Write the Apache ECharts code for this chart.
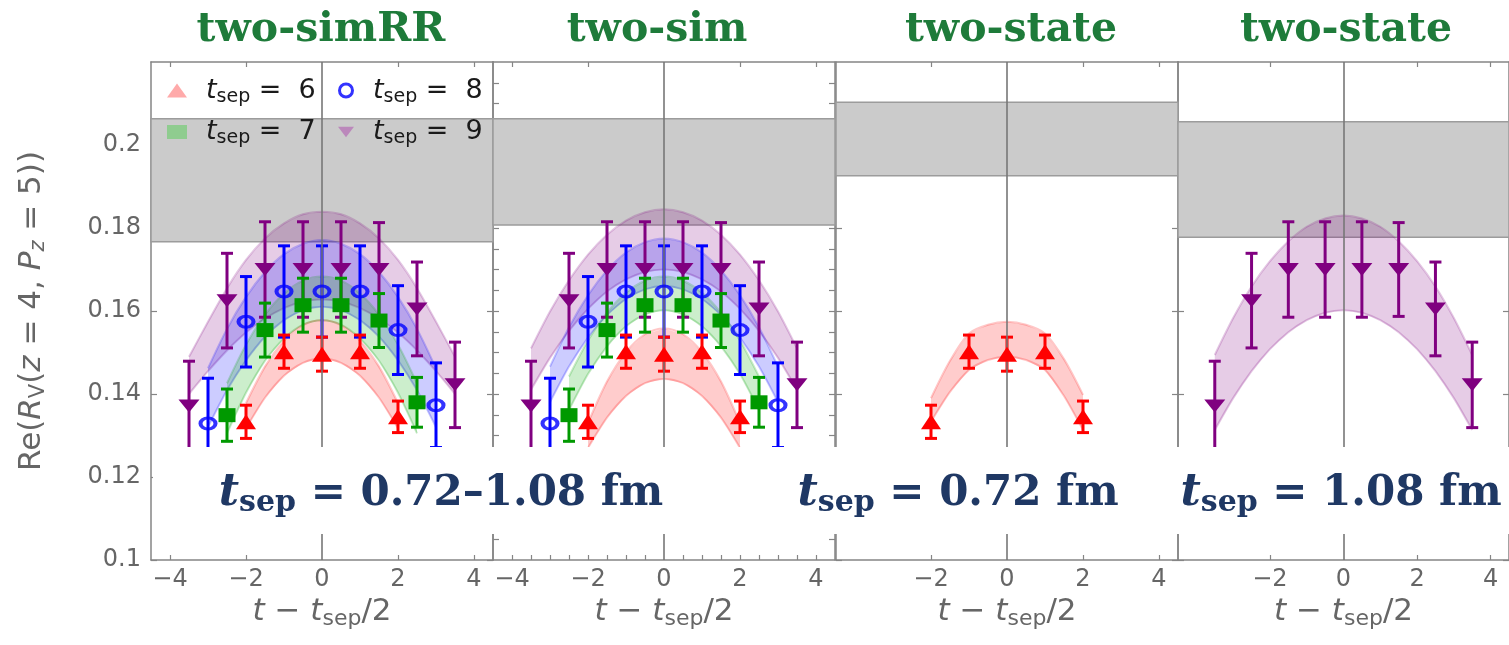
<!DOCTYPE html>
<html>
<head>
<meta charset="utf-8">
<title>Re(R_V) two-state fits</title>
<script src="https://cdn.jsdelivr.net/npm/echarts@6/dist/echarts.min.js"></script>
<style>
  html, body { margin: 0; padding: 0; background: #fff; }
  #chart { width: 1509px; height: 645px; }
</style>
</head>
<body>
<div id="chart"></div>
<script>
// ---- data ----
var panelTitles = ['two-simRR', 'two-sim', 'two-state', 'two-state'];
var tsepLabels = ['0.72–1.08', '0.72', '1.08'];
var yTicks = [0.1, 0.12, 0.14, 0.16, 0.18, 0.2];
var yTicksFine = [0.105, 0.11, 0.115, 0.12, 0.125, 0.13, 0.135, 0.14, 0.145, 0.15, 0.155, 0.16,
                  0.165, 0.17, 0.175, 0.18, 0.185, 0.19, 0.195, 0.2, 0.205, 0.21, 0.215];
var xTicksFull = [-4, -2, 0, 2, 4];
var xTicksShort = [-2, 0, 2, 4];
var xTicksFine = [-4, -3.5, -3, -2.5, -2, -1.5, -1, -0.5, 0.5, 1, 1.5, 2, 2.5, 3, 3.5, 4];

// lattice points (same in every panel)
var t6 = [-2, -1, 0, 1, 2];
var r6 = [0.1333, 0.1502, 0.1496, 0.1502, 0.1345];
var e6 = [0.0040, 0.0040, 0.0041, 0.0040, 0.0038];
var t7 = [-2.5, -1.5, -0.5, 0.5, 1.5, 2.5];
var r7 = [0.1349, 0.1554, 0.1614, 0.1614, 0.1577, 0.1380];
var e7 = [0.0063, 0.0065, 0.0065, 0.0065, 0.0065, 0.0060];
var t8 = [-3, -2, -1, 0, 1, 2, 3];
var r8 = [0.1329, 0.1574, 0.1647, 0.1647, 0.1647, 0.1554, 0.1373];
var e8 = [0.0109, 0.0109, 0.0110, 0.0110, 0.0110, 0.0107, 0.0102];
var t9 = [-3.5, -2.5, -1.5, -0.5, 0.5, 1.5, 2.5, 3.5];
var r9 = [0.1371, 0.1625, 0.1700, 0.1700, 0.1700, 0.1700, 0.1605, 0.1422];
var e9 = [0.0108, 0.0114, 0.0115, 0.0115, 0.0115, 0.0113, 0.0113, 0.0103];

// grey bands (ground-state result) per panel: [low, high]
var grayLo = [0.1767, 0.1807, 0.1926, 0.1778];
var grayHi = [0.2063, 0.2063, 0.2103, 0.2056];

// fit bands, sampled every 0.5
var bandT6 = [-2, -1.5, -1, -0.5, 0, 0.5, 1, 1.5, 2];
var bandT7 = [-2.5, -2, -1.5, -1, -0.5, 0, 0.5, 1, 1.5, 2, 2.5];
var bandT8 = [-3, -2.5, -2, -1.5, -1, -0.5, 0, 0.5, 1, 1.5, 2, 2.5, 3];
var bandT9 = [-3.5, -3, -2.5, -2, -1.5, -1, -0.5, 0, 0.5, 1, 1.5, 2, 2.5, 3, 3.5];

var p1Hi9 = [0.1490, 0.1574, 0.1655, 0.1723, 0.1775, 0.1811, 0.1833, 0.1839, 0.1833, 0.1811, 0.1775, 0.1723, 0.1655, 0.1574, 0.1490];
var p1Lo9 = [0.1400, 0.1455, 0.1505, 0.1548, 0.1582, 0.1607, 0.1623, 0.1628, 0.1623, 0.1607, 0.1582, 0.1548, 0.1505, 0.1455, 0.1400];
var p1Hi8 = [0.1462, 0.1557, 0.1634, 0.1694, 0.1737, 0.1762, 0.1771, 0.1762, 0.1737, 0.1694, 0.1634, 0.1557, 0.1462];
var p1Lo8 = [0.1320, 0.1409, 0.1481, 0.1538, 0.1578, 0.1602, 0.1610, 0.1602, 0.1578, 0.1538, 0.1481, 0.1409, 0.1320];
var p1Hi7 = [0.1426, 0.1519, 0.1591, 0.1642, 0.1673, 0.1683, 0.1673, 0.1642, 0.1591, 0.1519, 0.1426];
var p1Lo7 = [0.1305, 0.1403, 0.1480, 0.1534, 0.1567, 0.1578, 0.1567, 0.1534, 0.1480, 0.1403, 0.1305];
var p1Hi6 = [0.1378, 0.1466, 0.1528, 0.1566, 0.1578, 0.1566, 0.1528, 0.1466, 0.1378];
var p1Lo6 = [0.1317, 0.1391, 0.1444, 0.1475, 0.1486, 0.1475, 0.1444, 0.1391, 0.1317];

var p2Hi9 = [0.1510, 0.1599, 0.1674, 0.1736, 0.1784, 0.1818, 0.1838, 0.1845, 0.1838, 0.1818, 0.1784, 0.1736, 0.1674, 0.1599, 0.1510];
var p2Lo9 = [0.1410, 0.1487, 0.1552, 0.1605, 0.1647, 0.1676, 0.1694, 0.1700, 0.1694, 0.1676, 0.1647, 0.1605, 0.1552, 0.1487, 0.1410];
var p2Hi8 = [0.1466, 0.1561, 0.1638, 0.1698, 0.1741, 0.1766, 0.1775, 0.1766, 0.1741, 0.1698, 0.1638, 0.1561, 0.1466];
var p2Lo8 = [0.1380, 0.1466, 0.1536, 0.1590, 0.1629, 0.1652, 0.1660, 0.1652, 0.1629, 0.1590, 0.1536, 0.1466, 0.1380];
var p2Hi7 = [0.1442, 0.1529, 0.1596, 0.1644, 0.1673, 0.1683, 0.1673, 0.1644, 0.1596, 0.1529, 0.1442];
var p2Lo7 = [0.1361, 0.1448, 0.1515, 0.1563, 0.1592, 0.1602, 0.1592, 0.1563, 0.1515, 0.1448, 0.1361];
var p2Hi6 = [0.1330, 0.1430, 0.1501, 0.1544, 0.1558, 0.1544, 0.1501, 0.1430, 0.1330];
var p2Lo6 = [0.1270, 0.1343, 0.1395, 0.1426, 0.1436, 0.1426, 0.1395, 0.1343, 0.1270];

var p3Hi6 = [0.1390, 0.1480, 0.1546, 0.1567, 0.1574, 0.1567, 0.1546, 0.1484, 0.1398];
var p3Lo6 = [0.1333, 0.1405, 0.1458, 0.1482, 0.1490, 0.1482, 0.1458, 0.1395, 0.1313];

var p4Hi9 = [0.1494, 0.1583, 0.1659, 0.1720, 0.1768, 0.1803, 0.1823, 0.1830, 0.1823, 0.1803, 0.1768, 0.1720, 0.1659, 0.1583, 0.1494];
var p4Lo9 = [0.1313, 0.1390, 0.1455, 0.1508, 0.1549, 0.1578, 0.1596, 0.1602, 0.1596, 0.1578, 0.1549, 0.1508, 0.1455, 0.1390, 0.1313];

// ---- styling ----
var sets = {
  9: { t: t9, r: r9, e: e9, bt: bandT9, color: '#800080', fill: 'rgba(128,0,128,0.2)', edge: 'rgba(128,0,128,0.22)',
       symbol: 'triangle', rotate: 180, size: [21, 13] },
  8: { t: t8, r: r8, e: e8, bt: bandT8, color: '#0000ff', fill: 'rgba(0,0,255,0.2)', edge: 'rgba(0,0,255,0.22)',
       symbol: 'circle', rotate: 0, size: [15, 11] },
  7: { t: t7, r: r7, e: e7, bt: bandT7, color: '#009900', fill: 'rgba(0,170,0,0.2)', edge: 'rgba(0,160,0,0.22)',
       symbol: 'rect', rotate: 0, size: [17, 14] },
  6: { t: t6, r: r6, e: e6, bt: bandT6, color: '#ff0000', fill: 'rgba(255,0,0,0.2)', edge: 'rgba(255,0,0,0.22)',
       symbol: 'triangle', rotate: 0, size: [20, 15] }
};
var panels = [
  { keys: [9, 8, 7, 6], bands: { 9: [p1Lo9, p1Hi9], 8: [p1Lo8, p1Hi8], 7: [p1Lo7, p1Hi7], 6: [p1Lo6, p1Hi6] } },
  { keys: [9, 8, 7, 6], bands: { 9: [p2Lo9, p2Hi9], 8: [p2Lo8, p2Hi8], 7: [p2Lo7, p2Hi7], 6: [p2Lo6, p2Hi6] } },
  { keys: [6], bands: { 6: [p3Lo6, p3Hi6] } },
  { keys: [9], bands: { 9: [p4Lo9, p4Hi9] } }
];

var gridLeft = [151, 493, 836, 1178];
var gridW = 342, gridTop = 62, gridH = 498;
var axisColor = '#858585';
var labelColor = '#666';
var sans = 'DejaVu Sans';

function minus(v) { return v < 0 ? '\u2212' + Math.abs(v) : String(v); }

function bandSeries(xi, yi, ts, lo, hi, fill, edge) {
  return {
    type: 'custom', xAxisIndex: xi, yAxisIndex: yi, z: 2, silent: true,
    data: ts.map(function (t, i) { return [t, lo[i], hi[i]]; }),
    encode: { x: 0, y: [1, 2] },
    renderItem: function (params, api) {
      if (params.dataIndex !== 0) return null;
      var top = ts.map(function (t, i) { return api.coord([t, hi[i]]); });
      var bot = ts.map(function (t, i) { return api.coord([t, lo[i]]); });
      return { type: 'group', children: [
        { type: 'polygon', shape: { points: top.concat(bot.slice().reverse()) }, style: { fill: fill } },
        { type: 'polyline', shape: { points: top, smooth: 0.3 }, style: { stroke: edge, lineWidth: 2, fill: null } },
        { type: 'polyline', shape: { points: bot, smooth: 0.3 }, style: { stroke: edge, lineWidth: 2, fill: null } }
      ] };
    }
  };
}

function errorSeries(xi, yi, s) {
  return {
    type: 'custom', xAxisIndex: xi, yAxisIndex: yi, z: 4, silent: true,
    data: s.t.map(function (t, i) { return [t, s.r[i] - s.e[i], s.r[i] + s.e[i]]; }),
    encode: { x: 0, y: [1, 2] },
    renderItem: function (params, api) {
      var a = api.coord([api.value(0), api.value(1)]);
      var b = api.coord([api.value(0), api.value(2)]);
      var w = 6;
      var st = { stroke: s.color, lineWidth: 3 };
      return { type: 'group', children: [
        { type: 'line', shape: { x1: a[0], y1: a[1], x2: b[0], y2: b[1] }, style: st },
        { type: 'line', shape: { x1: a[0] - w, y1: a[1], x2: a[0] + w, y2: a[1] }, style: st },
        { type: 'line', shape: { x1: b[0] - w, y1: b[1], x2: b[0] + w, y2: b[1] }, style: st }
      ] };
    }
  };
}

var grids = [], xAxes = [], yAxes = [], series = [];

gridLeft.forEach(function (left, gi) {
  grids.push({ left: left, top: gridTop, width: gridW, height: gridH });
  var xt = gi < 2 ? xTicksFull : xTicksShort;
  var tickVals = gi === 1 ? xTicksFine : xt.filter(function (v) { return v !== 0; });
  var yTickVals = gi === 1 ? yTicksFine : yTicks;
  // bottom x axis
  xAxes.push({
    gridIndex: gi, type: 'value', min: -4.5, max: 4.5, position: 'bottom',
    axisLine: { onZero: false, lineStyle: { color: axisColor, width: 1.5 } },
    axisTick: { inside: true, length: 5, customValues: tickVals, lineStyle: { color: axisColor, width: 1.2 } },
    axisLabel: { customValues: xt, formatter: minus, color: labelColor, fontSize: 24,
                 fontFamily: sans, margin: 8 },
    splitLine: { show: false },
    name: '{i|t} \u2212 {i|t}{s|sep}/2', nameLocation: 'middle', nameGap: 34,
    nameTextStyle: { color: labelColor, fontFamily: sans, fontSize: 31,
      rich: { i: { fontStyle: 'italic', fontSize: 31, color: labelColor, fontFamily: sans },
              s: { fontSize: 22, color: labelColor, fontFamily: sans, padding: [14, 0, 0, 0] } } }
  });
  // top frame
  xAxes.push({
    gridIndex: gi, type: 'value', min: -4.5, max: 4.5, position: 'top',
    axisLine: { onZero: false, lineStyle: { color: axisColor, width: 1.5 } },
    axisTick: { inside: true, length: 5, customValues: xt.filter(function (v) { return v !== 0; }),
                lineStyle: { color: axisColor, width: 1.2 } },
    axisLabel: { show: false }, splitLine: { show: false }
  });
  var left0 = {
    gridIndex: gi, type: 'value', min: 0.1, max: 0.22, position: 'left',
    axisLine: { onZero: false, lineStyle: { color: axisColor, width: 1.5 } },
    axisTick: { inside: true, length: 6, customValues: yTickVals, lineStyle: { color: axisColor, width: 1.2 } },
    axisLabel: { show: gi === 0, customValues: yTicks, color: labelColor, fontSize: 24,
                 fontFamily: sans, margin: 10 },
    splitLine: { show: false }
  };
  if (gi === 0) {
    left0.name = 'Re({i|R}{s|V}({i|z} = 4, {i|P}{si|z} = 5))';
    left0.nameLocation = 'middle';
    left0.nameRotate = 90;
    left0.nameGap = 102;
    left0.nameTextStyle = { color: labelColor, fontFamily: sans, fontSize: 31,
      rich: { i: { fontStyle: 'italic', fontSize: 31, color: labelColor, fontFamily: sans },
              s: { fontSize: 21, color: labelColor, fontFamily: sans, padding: [13, 0, 0, 0] },
              si: { fontStyle: 'italic', fontSize: 21, color: labelColor, fontFamily: sans, padding: [13, 0, 0, 0] } } };
  }
  yAxes.push(left0);
  yAxes.push({
    gridIndex: gi, type: 'value', min: 0.1, max: 0.22, position: 'right',
    axisLine: { onZero: false, lineStyle: { color: axisColor, width: 1.5 } },
    axisTick: { inside: true, length: 6, customValues: yTickVals, lineStyle: { color: axisColor, width: 1.2 } },
    axisLabel: { show: false }, splitLine: { show: false }
  });

  var xi = gi * 2, yi = gi * 2;
  // grey band and the t = t_sep/2 line
  series.push({
    type: 'line', xAxisIndex: xi, yAxisIndex: yi, data: [], silent: true, z: 1,
    markArea: { silent: true, z: 1,
      itemStyle: { color: '#cbcbcb', borderColor: '#9c9c9c', borderWidth: 1.5 },
      data: [[{ yAxis: grayLo[gi] }, { yAxis: grayHi[gi] }]] },
    markLine: { silent: true, symbol: ['none', 'none'], label: { show: false },
      lineStyle: { color: '#777', width: 1.6, type: 'solid' }, data: [{ xAxis: 0 }] }
  });

  var p = panels[gi];
  p.keys.forEach(function (k) {
    var s = sets[k];
    series.push(bandSeries(xi, yi, s.bt, p.bands[k][0], p.bands[k][1], s.fill, s.edge));
  });
  p.keys.forEach(function (k) {
    series.push(errorSeries(xi, yi, sets[k]));
  });
  p.keys.forEach(function (k) {
    var s = sets[k];
    var hollow = k === 8;
    series.push({
      name: 'tsep' + k, type: 'scatter', xAxisIndex: xi, yAxisIndex: yi, z: 5, silent: true,
      symbol: s.symbol, symbolRotate: s.rotate, symbolSize: s.size,
      itemStyle: hollow ? { color: 'rgba(0,0,0,0)', borderColor: s.color, borderWidth: 3.5 }
                        : { color: s.color, opacity: 1 },
      data: s.t.map(function (t, i) { return [t, s.r[i]]; })
    });
  });
});

var legendRich = {
  i: { fontStyle: 'italic', fontSize: 27, color: '#1a1a1a', fontFamily: sans, padding: [0, 0, 0, 14] },
  s: { fontSize: 19, color: '#1a1a1a', fontFamily: sans, padding: [13, 0, 0, 0] },
  e: { fontSize: 27, color: '#1a1a1a', fontFamily: sans }
};
function legendText(name) { return '{i|t}{s|sep}{e| =  ' + name.slice(4) + '}'; }
var downTri = 'path://M0,0 L20,0 L10,13 Z';

var legends = [
  { left: 162, top: 72, orient: 'vertical', itemGap: 12, itemWidth: 20, itemHeight: 14,
    selectedMode: false, formatter: legendText, textStyle: { rich: legendRich },
    data: [
      { name: 'tsep6', icon: 'triangle', itemStyle: { color: '#ffaaaa', borderWidth: 0 } },
      { name: 'tsep7', icon: 'rect', itemStyle: { color: '#8fcc8f', borderWidth: 0 } }
    ] },
  { left: 333, top: 72, orient: 'vertical', itemGap: 12, itemWidth: 16, itemHeight: 13,
    selectedMode: false, formatter: legendText, textStyle: { rich: legendRich },
    data: [
      { name: 'tsep8', icon: 'circle', itemStyle: { color: '#ffffff', borderColor: '#0000ff', borderWidth: 3 } },
      { name: 'tsep9', icon: downTri, itemStyle: { color: '#bb88bb', borderWidth: 0 } }
    ] }
];

var titleCx = [321, 657, 1011, 1346];
var overlayCx = [441, 958, 1341];
var graphics = [];
titleCx.forEach(function (cx, i) {
  graphics.push({ type: 'text', x: cx, y: 30, z: 60,
    style: { text: panelTitles[i], fill: '#1e7b3a', font: 'bold 41px "DejaVu Serif"',
             align: 'center', verticalAlign: 'middle', textAlign: 'center', textVerticalAlign: 'middle' } });
});
graphics.push({ type: 'rect', z: 50, shape: { x: 153, y: 447, width: 1360, height: 87 },
  style: { fill: '#ffffff' } });
var ovRich = {
  t: { font: 'italic bold 44px "DejaVu Serif"', fill: '#1f3864' },
  s: { font: 'bold 30px "DejaVu Serif"', fill: '#1f3864', padding: [18, 0, 0, 0] },
  e: { font: 'bold 42px "DejaVu Serif"', fill: '#1f3864' }
};
overlayCx.forEach(function (cx, i) {
  graphics.push({ type: 'text', x: cx, y: 494, z: 60,
    style: { text: '{t|t}{s|sep}{e| = ' + tsepLabels[i] + ' fm}', rich: ovRich,
             align: 'center', verticalAlign: 'middle', textAlign: 'center', textVerticalAlign: 'middle' } });
});

var chart = echarts.init(document.getElementById('chart'));
chart.setOption({
  animation: false,
  backgroundColor: '#ffffff',
  grid: grids,
  xAxis: xAxes,
  yAxis: yAxes,
  legend: legends,
  series: series,
  graphic: graphics
});
</script>
</body>
</html>
